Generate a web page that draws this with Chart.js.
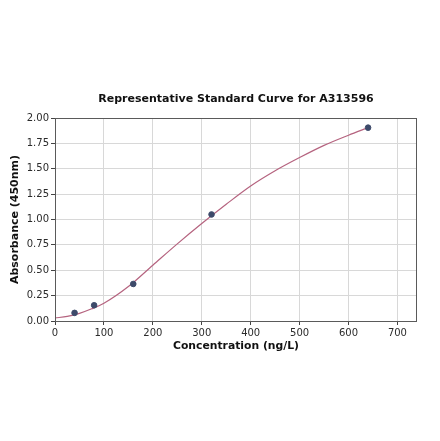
<!DOCTYPE html>
<html>
<head>
<meta charset="utf-8">
<script src="https://cdn.jsdelivr.net/npm/chart.js@4.4.1/dist/chart.umd.min.js"></script>
<style>
  html, body { margin: 0; padding: 0; background: #fff; }
  #wrap { width: 440px; height: 441px; }
</style>
</head>
<body>
<div id="wrap"><canvas id="stdCurve"></canvas></div>
<script>
// measured standards
var concentrations = [40, 80, 160, 320, 640];
var absorbances = [0.08, 0.155, 0.365, 1.05, 1.905];

// fitted curve
var curveX = [0, 25, 50, 75, 100, 150, 200, 250, 300, 350, 400, 450, 500, 550, 600, 640];
var curveY = [0.03, 0.045, 0.075, 0.12, 0.175, 0.34, 0.55, 0.76, 0.96, 1.15, 1.33, 1.48, 1.61, 1.73, 1.83, 1.905];

var xTicks = [0, 100, 200, 300, 400, 500, 600, 700];
var yTicks = [0, 0.25, 0.5, 0.75, 1.0, 1.25, 1.5, 1.75, 2.0];

var chartTitle = 'Representative Standard Curve for A313596';
var font = "'DejaVu Sans', sans-serif";

function toPoints(xs, ys) {
    return xs.map(function (x, i) { return { x: x, y: ys[i] }; });
}

// box around the plot area and a title centred over it, like matplotlib
var frame = {
    id: 'frame',
    afterDatasetsDraw: function (chart) {
        var a = chart.chartArea, c = chart.ctx;
        c.save();
        c.strokeStyle = '#5a5a5a';
        c.lineWidth = 1;
        c.strokeRect(a.left + 0.5, a.top + 0.5, a.right - a.left - 1, a.bottom - a.top);
        c.fillStyle = '#111';
        c.font = 'bold 11px ' + font;
        c.textAlign = 'center';
        c.textBaseline = 'middle';
        c.fillText(chartTitle, (a.left + a.right) / 2, a.top - 19);
        c.restore();
    }
};

var ctx = document.getElementById('stdCurve').getContext('2d');
var chart = new Chart(ctx, {
    type: 'scatter',
    data: {
        datasets: [{
            label: 'Fit',
            data: toPoints(curveX, curveY),
            showLine: true,
            borderColor: '#b5637f',
            borderWidth: 1.2,
            pointRadius: 0,
            cubicInterpolationMode: 'monotone',
            order: 2
        }, {
            label: 'Standards',
            data: toPoints(concentrations, absorbances),
            backgroundColor: '#3d4a6a',
            borderColor: '#3d4a6a',
            pointRadius: 2.8,
            order: 1
        }]
    },
    options: {
        responsive: true,
        maintainAspectRatio: false,
        animation: false,
        layout: { padding: { left: 9, right: 23, top: 118, bottom: 88 } },
        plugins: {
            legend: { display: false },
            tooltip: { enabled: false },
            title: { display: false }
        },
        scales: {
            x: {
                type: 'linear',
                min: 0,
                max: 740,
                afterBuildTicks: function (axis) {
                    axis.ticks = xTicks.map(function (v) { return { value: v }; });
                },
                afterFit: function (axis) { axis.height = 32; },
                grid: { color: '#d8d8d8', tickColor: '#444', tickLength: 4 },
                border: { display: false },
                ticks: {
                    color: '#2b2b2b',
                    padding: 2,
                    maxRotation: 0,
                    font: { family: font, size: 10 }
                },
                title: {
                    display: true,
                    text: 'Concentration (ng/L)',
                    color: '#111',
                    font: { family: font, size: 10.8, weight: 'bold' },
                    padding: { top: 2, bottom: 0 }
                }
            },
            y: {
                min: 0,
                max: 2,
                afterBuildTicks: function (axis) {
                    axis.ticks = yTicks.map(function (v) { return { value: v }; });
                },
                afterFit: function (axis) { axis.width = 46; },
                grid: { color: '#d8d8d8', tickColor: '#444', tickLength: 4 },
                border: { display: false },
                ticks: {
                    color: '#2b2b2b',
                    padding: 2,
                    font: { family: font, size: 10 },
                    callback: function (v) { return Number(v).toFixed(2); }
                },
                title: {
                    display: true,
                    text: 'Absorbance (450nm)',
                    color: '#111',
                    font: { family: font, size: 11, weight: 'bold' },
                    padding: { top: 0, bottom: 2 }
                }
            }
        }
    },
    plugins: [frame]
});
</script>
</body>
</html>
